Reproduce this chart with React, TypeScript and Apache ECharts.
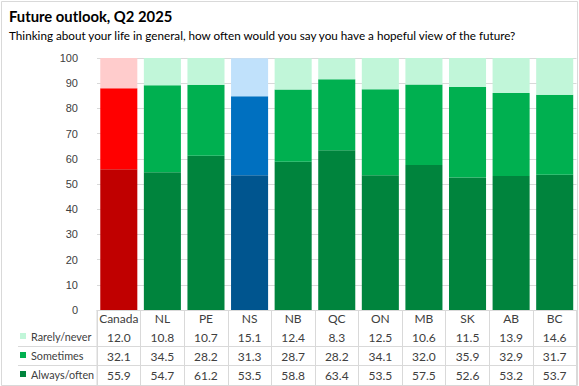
import React, { useEffect, useRef } from "react";
import * as echarts from "echarts";

const categories = ["Canada", "NL", "PE", "NS", "NB", "QC", "ON", "MB", "SK", "AB", "BC"];
const rarely = [12.0, 10.8, 10.7, 15.1, 12.4, 8.3, 12.5, 10.6, 11.5, 13.9, 14.6];
const sometimes = [32.1, 34.5, 28.2, 31.3, 28.7, 28.2, 34.1, 32.0, 35.9, 32.9, 31.7];
const always = [55.9, 54.7, 61.2, 53.5, 58.8, 63.4, 53.5, 57.5, 52.6, 53.2, 53.7];
const seriesNames = ["Rarely/never", "Sometimes", "Always/often"];

const greens = ["#C1F6D9", "#00B050", "#00843D"];
const reds = ["#FFCCCC", "#FF0000", "#C00000"];
const blues = ["#C0E1FB", "#0070C0", "#00558F"];

const GRID_LEFT = 97;
const GRID_RIGHT = 2.5;
const GRID_TOP = 58;
const GRID_BOTTOM = 76;
const ROW_H = 19;
const W = 579;
const H = 386;
const FONT = "Lato, 'Noto Sans', sans-serif";
const LINE = "#D9D9D9";

function colored(values: number[], level: number) {
  return values.map((v, i) => {
    if (i === 0) return { value: v, itemStyle: { color: reds[level] } };
    if (i === 3) return { value: v, itemStyle: { color: blues[level] } };
    return v;
  });
}

export default function App() {
  const ref = useRef<HTMLDivElement>(null);
  useEffect(() => {
    if (!ref.current) return;
    const chart = echarts.init(ref.current, undefined, { renderer: "svg" });
    const tableRows = [rarely, sometimes, always];
    const tableAxes = tableRows.map((vals, r) => ({
      type: "category",
      gridIndex: 0,
      position: "bottom",
      offset: (r + 1) * ROW_H,
      data: vals.map((v) => v.toFixed(1)),
      axisLine: { show: false },
      axisTick: { show: false },
      splitLine: { show: false },
      axisLabel: { interval: 0, margin: 2, color: "#404040", fontSize: 12, fontFamily: FONT },
    }));
    const tableTop = H - GRID_BOTTOM;
    chart.setOption({
      animation: false,
      title: [
        {
          text: "Future outlook, Q2 2025",
          left: 4,
          top: 3,
          textStyle: { fontSize: 14.8, fontWeight: "bold", color: "#000", fontFamily: FONT },
        },
        {
          text: "Thinking about your life in general, how often would you say you have a hopeful view of the future?",
          left: 4,
          top: 24,
          textStyle: { fontSize: 11.7, fontWeight: "normal", color: "#000", fontFamily: FONT },
        },
      ],
      legend: {
        data: seriesNames,
        orient: "vertical",
        left: 20,
        top: tableTop + ROW_H - 2.5,
        padding: 0,
        itemGap: 0,
        itemWidth: 6,
        itemHeight: 6,
        icon: "rect",
        selectedMode: false,
        textStyle: { fontSize: 10.8, color: "#404040", fontFamily: FONT, lineHeight: ROW_H },
      },
      grid: [
        { left: GRID_LEFT, right: GRID_RIGHT, top: GRID_TOP, bottom: GRID_BOTTOM },
        { left: GRID_LEFT, right: GRID_RIGHT, top: tableTop, bottom: 0 },
      ],
      xAxis: [
        {
          type: "category",
          gridIndex: 0,
          data: categories,
          axisLine: { show: true, lineStyle: { color: LINE } },
          axisTick: { show: false },
          axisLabel: { interval: 0, margin: 2, color: "#404040", fontSize: 12, fontFamily: FONT },
        },
        ...tableAxes,
        {
          type: "category",
          gridIndex: 1,
          data: categories,
          axisLine: { show: false },
          axisTick: { show: false },
          axisLabel: { show: false },
          splitLine: { show: true, interval: 0, lineStyle: { color: LINE } },
        },
      ],
      yAxis: [
        {
          type: "value",
          gridIndex: 0,
          min: 0,
          max: 100,
          interval: 10,
          axisLine: { show: false },
          axisTick: { show: false },
          axisLabel: { color: "#404040", fontSize: 11, fontFamily: "'Liberation Sans', Arial, sans-serif", margin: 19 },
          splitLine: { lineStyle: { color: LINE } },
        },
        {
          type: "value",
          gridIndex: 1,
          show: false,
          splitLine: { show: false },
        },
      ],
      series: [
        {
          name: "Always/often",
          type: "bar",
          stack: "s",
          xAxisIndex: 0,
          yAxisIndex: 0,
          barCategoryGap: "15%",
          itemStyle: { color: greens[2] },
          data: colored(always, 2),
        },
        {
          name: "Sometimes",
          type: "bar",
          stack: "s",
          xAxisIndex: 0,
          yAxisIndex: 0,
          barCategoryGap: "15%",
          itemStyle: { color: greens[1] },
          data: colored(sometimes, 1),
        },
        {
          name: "Rarely/never",
          type: "bar",
          stack: "s",
          xAxisIndex: 0,
          yAxisIndex: 0,
          barCategoryGap: "15%",
          itemStyle: { color: greens[0] },
          data: colored(rarely, 0),
        },
      ],
      graphic: [
        {
          type: "rect",
          shape: { x: 1.5, y: 1.5, width: W - 3, height: H - 2 },
          style: { fill: "none", stroke: LINE, lineWidth: 1 },
          silent: true,
        },
        ...[2, 3].map((r) => ({
          type: "line",
          shape: { x1: 18, y1: tableTop + r * ROW_H - 1.5, x2: W - GRID_RIGHT, y2: tableTop + r * ROW_H - 1.5 },
          style: { stroke: LINE, lineWidth: 1 },
          silent: true,
        })),
        {
          type: "line",
          shape: { x1: GRID_LEFT, y1: tableTop, x2: GRID_LEFT, y2: H },
          style: { stroke: LINE, lineWidth: 1 },
          silent: true,
        },
        {
          type: "line",
          shape: { x1: W - GRID_RIGHT, y1: tableTop, x2: W - GRID_RIGHT, y2: H },
          style: { stroke: LINE, lineWidth: 1 },
          silent: true,
        },
      ],
    });
    return () => chart.dispose();
  }, []);
  return (
    <div
      ref={ref}
      style={{ position: "absolute", left: 0, top: 0, width: W, height: H, background: "#fff" }}
    />
  );
}
